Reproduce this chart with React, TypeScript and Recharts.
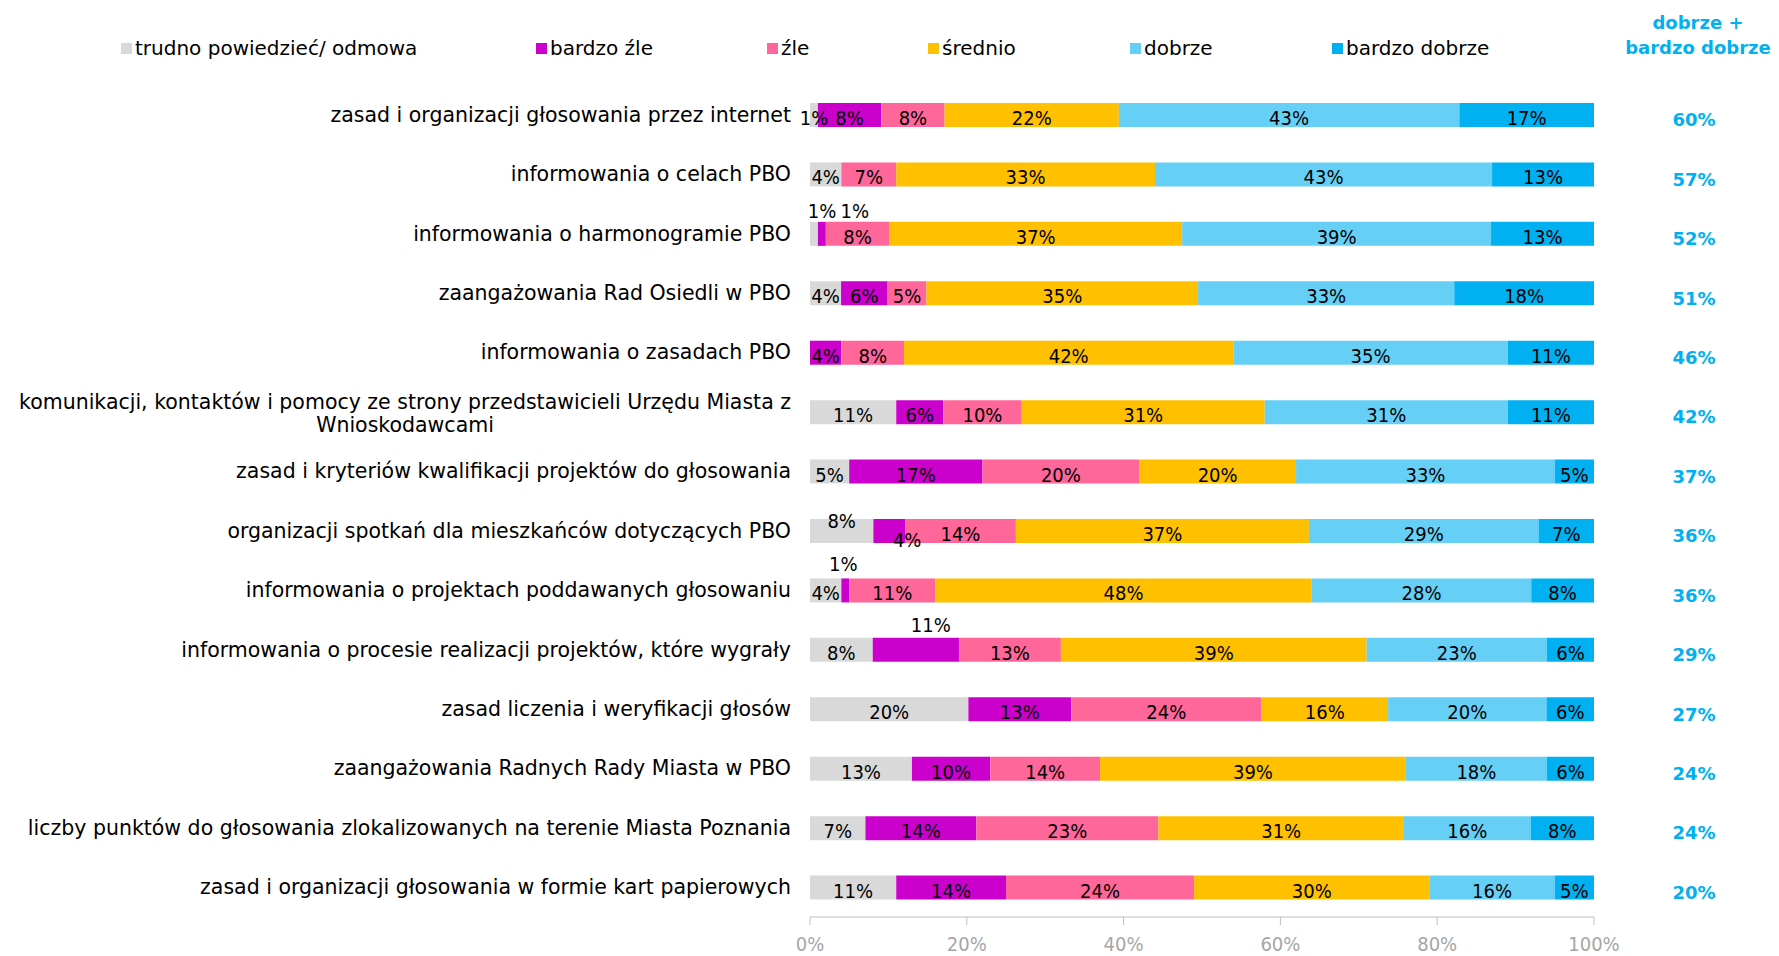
import { BarChart, Bar, XAxis, YAxis, LabelList } from 'recharts'

const categories = [
  'zasad i organizacji głosowania przez internet',
  'informowania o celach PBO',
  'informowania o harmonogramie PBO',
  'zaangażowania Rad Osiedli w PBO',
  'informowania o zasadach PBO',
  'komunikacji, kontaktów i pomocy ze strony przedstawicieli Urzędu Miasta z Wnioskodawcami',
  'zasad i kryteriów kwalifikacji projektów do głosowania',
  'organizacji spotkań dla mieszkańców dotyczących PBO',
  'informowania o projektach poddawanych głosowaniu',
  'informowania o procesie realizacji projektów, które wygrały',
  'zasad liczenia i weryfikacji głosów',
  'zaangażowania Radnych Rady Miasta w PBO',
  'liczby punktów do głosowania zlokalizowanych na terenie Miasta Poznania',
  'zasad i organizacji głosowania w formie kart papierowych',
]

const trudno = [1, 4, 1, 4, 0, 11, 5, 8, 4, 8, 20, 13, 7, 11]
const bardzoZle = [8, 0, 1, 6, 4, 6, 17, 4, 1, 11, 13, 10, 14, 14]
const zle = [8, 7, 8, 5, 8, 10, 20, 14, 11, 13, 24, 14, 23, 24]
const srednio = [22, 33, 37, 35, 42, 31, 20, 37, 48, 39, 16, 39, 31, 30]
const dobrze = [43, 43, 39, 33, 35, 31, 33, 29, 28, 23, 20, 18, 16, 16]
const bardzoDobrze = [17, 13, 13, 18, 11, 11, 5, 7, 8, 6, 6, 6, 8, 5]
const dobrzePlusBardzoDobrze = [60, 57, 52, 51, 46, 42, 37, 36, 36, 29, 27, 24, 24, 20]

const xTicks = [0, 0.2, 0.4, 0.6, 0.8, 1]

const series = [
  { key: 'trudno', name: 'trudno powiedzieć/ odmowa', color: '#D9D9D9', values: trudno },
  { key: 'bardzoZle', name: 'bardzo źle', color: '#CC00CC', values: bardzoZle },
  { key: 'zle', name: 'źle', color: '#FF6699', values: zle },
  { key: 'srednio', name: 'średnio', color: '#FFC000', values: srednio },
  { key: 'dobrze', name: 'dobrze', color: '#66CFF5', values: dobrze },
  { key: 'bardzoDobrze', name: 'bardzo dobrze', color: '#00B0F0', values: bardzoDobrze },
]

const data = categories.map((name, i) => {
  const row: Record<string, string | number> = { name, row: i, total: dobrzePlusBardzoDobrze[i] }
  series.forEach((s) => {
    row[s.key] = s.values[i]
  })
  return row
})

// small labels that Excel pushed out of the way: [dx, dy] per row index
const labelShift: Record<string, Record<number, [number, number]>> = {
  trudno: { 2: [8, -26], 7: [0, -13] },
  bardzoZle: { 2: [33, -26], 7: [18, 6], 8: [-2, -29], 9: [15, -28] },
}

// legend item left edges (chart px)
const legendLeft = [113, 528, 759, 920, 1122, 1324]

const FONT = "'DejaVu Sans', sans-serif"
const NUM_FONT = "'DejaVu Sans Condensed', 'DejaVu Sans', sans-serif"
const CAT_SIZE = 20.5

const measureCtx = typeof document !== 'undefined'
  ? document.createElement('canvas').getContext('2d')
  : null

function textWidth(s: string) {
  if (!measureCtx) return s.length * 10
  measureCtx.font = `${CAT_SIZE}px ${FONT}`
  return measureCtx.measureText(s).width
}

function wrap(s: string, max: number) {
  const words = s.split(' ')
  const lines: string[] = []
  let cur = ''
  for (const w of words) {
    const next = cur ? cur + ' ' + w : w
    if (next.length > max && cur) {
      lines.push(cur)
      cur = w
    } else {
      cur = next
    }
  }
  if (cur) lines.push(cur)
  return lines
}

function CategoryTick({ x, y, payload }: any) {
  const lines = wrap(String(payload.value), 75)
  if (lines.length === 1) {
    return (
      <text x={x} y={y} textAnchor="end" dominantBaseline="central" fontSize={CAT_SIZE} fontFamily={FONT} fill="#000">
        {lines[0]}
      </text>
    )
  }
  const w = textWidth(lines[0])
  const cx = x - w / 2
  return (
    <text fontSize={CAT_SIZE} fontFamily={FONT} fill="#000" dominantBaseline="central">
      {lines.map((l, i) => (
        <tspan key={i} x={cx} y={y - 10 + i * 23} textAnchor="middle">{l}</tspan>
      ))}
    </text>
  )
}

function TotalTick({ x, y, index }: any) {
  return (
    <text x={x} y={y + 5} textAnchor="middle" dominantBaseline="central" fontSize={18}
      fontWeight="bold" fontFamily={FONT} fill="#00B0F0">
      {dobrzePlusBardzoDobrze[index]}%
    </text>
  )
}

// LabelList value is "row|value" so the row is known even when zero bars are skipped
function makeLabel(key: string) {
  return (props: any) => {
    const vb = props.viewBox ?? props
    const [rowStr, valStr] = String(props.value).split('|')
    const value = Number(valStr)
    const row = Number(rowStr)
    if (!value) return null
    const [dx, dy] = labelShift[key]?.[row] ?? [0, 0]
    return (
      <text x={vb.x + vb.width / 2 + dx} y={vb.y + vb.height / 2 + 3 + dy} textAnchor="middle"
        dominantBaseline="central" fontSize={20} fontFamily={NUM_FONT} fontStretch="condensed" fill="#000">
        {value}%
      </text>
    )
  }
}

export default function App() {
  return (
    <div style={{ position: 'relative', width: 1763, height: 948 }}>
      <div style={{ position: 'absolute', left: 0, top: 28, width: 1500, height: 24, fontFamily: FONT, fontSize: 20 }}>
        {series.map((s, i) => (
          <div key={s.key} style={{ position: 'absolute', left: legendLeft[i], top: 0, display: 'flex', alignItems: 'center', height: 24, whiteSpace: 'nowrap' }}>
            <span style={{ display: 'inline-block', width: 11, height: 11, background: s.color, marginRight: 3 }} />
            <span>{s.name}</span>
          </div>
        ))}
      </div>
      <div style={{ position: 'absolute', left: 1590, top: 2, width: 200, textAlign: 'center', fontFamily: FONT, fontWeight: 'bold', fontSize: 18, lineHeight: '25px', color: '#00B0F0' }}>
        dobrze +<br />bardzo dobrze
      </div>
      <BarChart
        width={1763}
        height={948}
        data={data}
        layout="vertical"
        stackOffset="expand"
        barSize={24}
        margin={{ top: 77, right: 0, bottom: 0, left: 0 }}
      >
        <XAxis
          type="number"
          domain={[0, 1]}
          ticks={xTicks}
          interval={0}
          tickFormatter={(v: number) => `${Math.round(v * 100)}%`}
          stroke="#BFBFBF"
          tickSize={8}
          tickMargin={12}
          height={39}
          tick={{ fill: '#A6A6A6', fontSize: 20, fontFamily: NUM_FONT }}
        />
        <YAxis
          yAxisId="left"
          type="category"
          dataKey="name"
          width={802}
          axisLine={false}
          tickLine={false}
          tickSize={0}
          tickMargin={19}
          interval={0}
          tick={<CategoryTick />}
        />
        <YAxis
          yAxisId="right"
          type="category"
          dataKey="name"
          orientation="right"
          width={177}
          axisLine={false}
          tickLine={false}
          tickSize={0}
          tickMargin={100}
          interval={0}
          tick={<TotalTick />}
        />
        {series.map((s) => (
          <Bar key={s.key} dataKey={s.key} name={s.name} stackId="a" yAxisId="left" fill={s.color} isAnimationActive={false}>
            <LabelList dataKey={(r: any) => `${r.row}|${r[s.key]}`} content={makeLabel(s.key)} />
          </Bar>
        ))}
      </BarChart>
    </div>
  )
}
